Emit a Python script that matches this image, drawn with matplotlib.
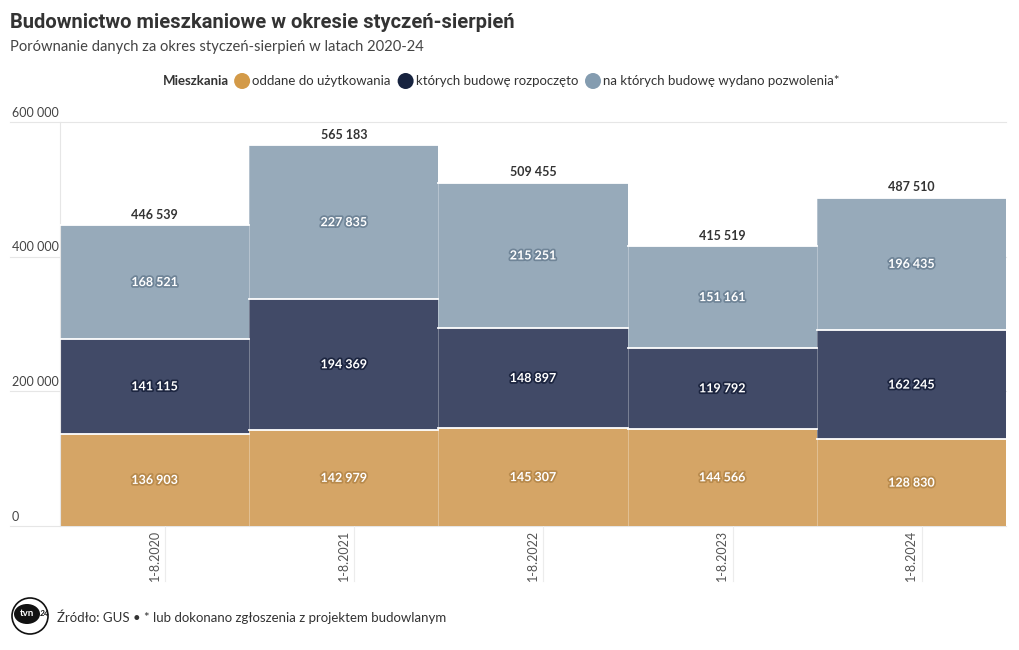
import numpy as np
import matplotlib
matplotlib.use("Agg")
from matplotlib import pyplot as plt
from matplotlib import patheffects as pe
from matplotlib.patches import Ellipse

# dane GUS, styczeń-sierpień
okresy = ["1-8.2020", "1-8.2021", "1-8.2022", "1-8.2023", "1-8.2024"]
oddane = [136903, 142979, 145307, 144566, 128830]
rozpoczete = [141115, 194369, 148897, 119792, 162245]
pozwolenia = [168521, 227835, 215251, 151161, 196435]
serie = ["oddane do użytkowania", "których budowę rozpoczęto", "na których budowę wydano pozwolenia*"]

kolory = ["#d5a566", "#414a67", "#97aaba"]
kolory_leg = ["#d39a48", "#17233f", "#849cb0"]
obwodki = ["#b88a4c", "#1c2540", "#6f8497"]

plt.rcParams["font.family"] = ["Lato", "DejaVu Sans"]

def fmt(v):
    return f"{v:,}".replace(",", " ")

fig = plt.figure(figsize=(10.2, 6.5), dpi=100)
ax = fig.add_axes([60/1020, 124/650, 946/1020, 404/650])

x = np.arange(len(okresy))
dane = [oddane, rozpoczete, pozwolenia]
dol = np.zeros(len(okresy))
for i, vals in enumerate(dane):
    vals = np.array(vals)
    ax.bar(x, vals, width=1.0, bottom=dol, color=kolory[i], edgecolor="none", zorder=2)
    # biała linia na górze segmentu
    for xi, b, v in zip(x, dol, vals):
        ax.plot([xi-0.5, xi+0.5], [b+v, b+v], color="white", lw=1.3, zorder=3)
        t = ax.text(xi, b+v/2, fmt(int(v)), ha="center", va="center", color="white",
                    fontsize=9, fontweight="bold", zorder=4)
        t.set_path_effects([pe.withStroke(linewidth=2.5, foreground=obwodki[i])])
    dol = dol + vals

# cienkie pionowe linie między słupkami
for xi, h in zip(x[1:], np.maximum(dol[:-1], dol[1:])):
    ax.plot([xi-0.5, xi-0.5], [0, h], color="white", lw=0.6, alpha=0.35, zorder=3)

for xi, s in zip(x, dol):
    ax.text(xi, s+7000, fmt(int(s)), ha="center", va="bottom", color="#333333",
            fontsize=9, fontweight="bold")

ax.set_xlim(-0.5, 4.5)
ax.set_ylim(0, 600000)
ax.set_yticks([0, 200000, 400000, 600000])
ax.set_yticklabels([])
for v in [0, 200000, 400000, 600000]:
    ax.plot([-50/189.2 - 0.5, 4.5], [v, v], color="#e6e6e6", lw=0.8, zorder=1, clip_on=False)
    ax.text(-48/189.2 - 0.5, v + 5000, fmt(v), ha="left", va="bottom", fontsize=9, color="#444444")
ax.tick_params(left=False, bottom=False)
ax.set_xticks(x)
ax.set_xticklabels([])
for xi, o in zip(x, okresy):
    ax.plot([xi+0.055, xi+0.055], [0, -82000], color="#ececec", lw=0.8, clip_on=False, zorder=1)
    ax.text(xi, -6000, o, rotation=90, ha="center", va="top", fontsize=9, color="#555555")
for s in ["top", "right", "bottom"]:
    ax.spines[s].set_visible(False)
ax.spines["left"].set_color("#e6e6e6")
ax.spines["left"].set_linewidth(0.8)

# tytuły
fig.text(10/1020, 1-22/650, "Budownictwo mieszkaniowe w okresie styczeń-sierpień", fontsize=14.5,
         fontweight="bold", color="#333333", va="center", family=["Roboto", "DejaVu Sans"])
fig.text(10/1020, 1-47/650, "Porównanie danych za okres styczeń-sierpień w latach 2020-24",
         fontsize=10.6, color="#444444", va="center")

# legenda
fig.canvas.draw()
r = fig.canvas.get_renderer()
px = 163
yl = 1-81/650
t = fig.text(px/1020, yl, "Mieszkania", fontsize=9.5, fontweight="bold", color="#333333", va="center")
px = t.get_window_extent(r).x1 + 13
for c, s in zip(kolory_leg, serie):
    fig.patches.append(Ellipse((px/1020, yl), 16/1020, 16/650, transform=fig.transFigure,
                               facecolor=c, edgecolor="none"))
    t = fig.text((px+10)/1020, yl, s, fontsize=9.5, color="#333333", va="center")
    px = t.get_window_extent(r).x1 + 15

# stopka z logo
fig.patches.append(Ellipse((30/1020, 1-616/650), 36/1020, 36/650, transform=fig.transFigure,
                           facecolor="white", edgecolor="#111111", lw=1.2))
fig.patches.append(Ellipse((27/1020, 1-614/650), 26/1020, 20/650, transform=fig.transFigure,
                           facecolor="#111111", edgecolor="none"))
fig.text(27/1020, 1-614/650, "tvn", fontsize=7, fontweight="bold", color="white", ha="center", va="center")
fig.text(45/1020, 1-614/650, "24", fontsize=6, fontweight="bold", color="#111111", ha="center", va="center",
         style="italic")
fig.text(57/1020, 1-617/650, "Źródło: GUS • * lub dokonano zgłoszenia z projektem budowlanym",
         fontsize=9.5, color="#333333", va="center")

fig.savefig("out.png", dpi=100, facecolor="white")
